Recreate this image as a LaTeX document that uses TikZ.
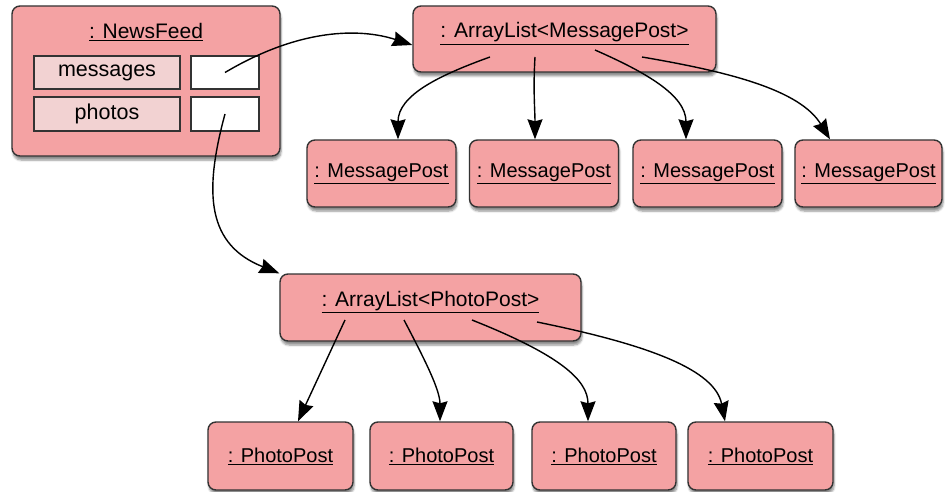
\documentclass[tikz,border=0pt]{standalone}
\usepackage{fontspec}
\setmainfont{Liberation Sans}
\usetikzlibrary{arrows.meta,shadows.blur}
\definecolor{Cobjpink}{HTML}{F4A2A3}
\definecolor{Cfieldpink}{HTML}{F2D2D2}
\definecolor{Cedge}{HTML}{333333}

\begin{document}
\begin{tikzpicture}[x=1pt,y=-1pt,
		obj/.style={draw=Cedge,line width=1.4pt,fill=Cobjpink,rounded corners=8pt,
			blur shadow={shadow xshift=1pt,shadow yshift=-4pt,shadow blur steps=6,shadow opacity=45},
			inner sep=0pt,font=\fontsize{20}{24}\selectfont},
		listobj/.style={obj,font=\fontsize{21}{25}\selectfont,text height=15pt,text depth=17pt},
		field/.style={draw=Cedge,line width=1.2pt,fill=Cfieldpink,inner sep=0pt,font=\fontsize{21.5}{25}\selectfont},
		slot/.style={draw=Cedge,line width=1.2pt,fill=white,inner sep=0pt},
		ref/.style={black,line width=1.4pt,-{Stealth[length=20pt,width=15pt,inset=2pt]}}]
		\useasboundingbox (0,0) rectangle (945,492);
		% the NewsFeed object
		\node[obj,minimum width=268pt,minimum height=150pt] (feed) at (146,81) {};
		\node[font=\fontsize{21}{25}\selectfont] (feedname) at (146,32) {\underline{: NewsFeed}};
		\node[field,minimum width=146pt,minimum height=33pt] (messages) at (107,72.5) {messages};
		\node[slot,minimum width=68pt,minimum height=33pt] (messagesval) at (225,72.5) {};
		\node[field,minimum width=146pt,minimum height=34pt] (photos) at (107,114) {photos};
		\node[slot,minimum width=68pt,minimum height=34pt] (photosval) at (225,114) {};
		% the two lists
		\node[listobj,minimum width=303pt,minimum height=66pt] (mlist) at (564.5,39) {\underline{: ArrayList<MessagePost>}};
		\node[listobj,minimum width=301pt,minimum height=67pt] (plist) at (430.5,307.5) {\underline{: ArrayList<PhotoPost>}};
		% the posts
		\node[obj,minimum width=149pt,minimum height=67pt] (mpost1) at (381.5,173.5) {\underline{: MessagePost}};
		\node[obj,minimum width=149pt,minimum height=67pt] (mpost2) at (544,173.5) {\underline{: MessagePost}};
		\node[obj,minimum width=149pt,minimum height=67pt] (mpost3) at (707.5,173.5) {\underline{: MessagePost}};
		\node[obj,minimum width=147pt,minimum height=67pt] (mpost4) at (868.5,173.5) {\underline{: MessagePost}};
		\node[obj,minimum width=145pt,minimum height=68pt] (ppost1) at (280.5,456) {\underline{: PhotoPost}};
		\node[obj,minimum width=143pt,minimum height=68pt] (ppost2) at (441.5,456) {\underline{: PhotoPost}};
		\node[obj,minimum width=144pt,minimum height=68pt] (ppost3) at (604,456) {\underline{: PhotoPost}};
		\node[obj,minimum width=145pt,minimum height=68pt] (ppost4) at (760.5,456) {\underline{: PhotoPost}};
		% reference ends inside the objects
		\coordinate (mref0) at (490,57);
		\coordinate (mref1) at (535,57);
		\coordinate (mref2) at (595,50);
		\coordinate (mref3) at (642,57);
		\coordinate (pref0) at (345,320);
		\coordinate (pref1) at (404,320);
		\coordinate (pref2) at (472,320);
		\coordinate (pref3) at (537,322);
		% references
		\draw[ref] (messagesval.center) .. controls (300,28) and (360,28) .. (mlist.west |- 0,45);
		\draw[ref] (photosval.center) .. controls (203,195) and (208,245) .. (plist.north west);
		\draw[ref] (mref0) .. controls (440,75) and (398,95) .. (mpost1.north -| 398,0);
		\draw[ref] (mref1) .. controls (533,90) and (535,110) .. (mpost2.north -| 535,0);
		\draw[ref] (mref2) .. controls (645,72) and (686,95) .. (mpost3.north -| 686,0);
		\draw[ref] (mref3) .. controls (730,72) and (800,90) .. (mpost4.north -| 830,0);
		\draw[ref] (pref0) -- (ppost1.north -| 298,0);
		\draw[ref] (pref1) .. controls (425,360) and (440,390) .. (ppost2.north -| 440,0);
		\draw[ref] (pref2) .. controls (560,355) and (588,380) .. (ppost3.north -| 588,0);
		\draw[ref] (pref3) .. controls (650,345) and (715,370) .. (ppost4.north -| 725,0);
	\end{tikzpicture}
\end{document}
